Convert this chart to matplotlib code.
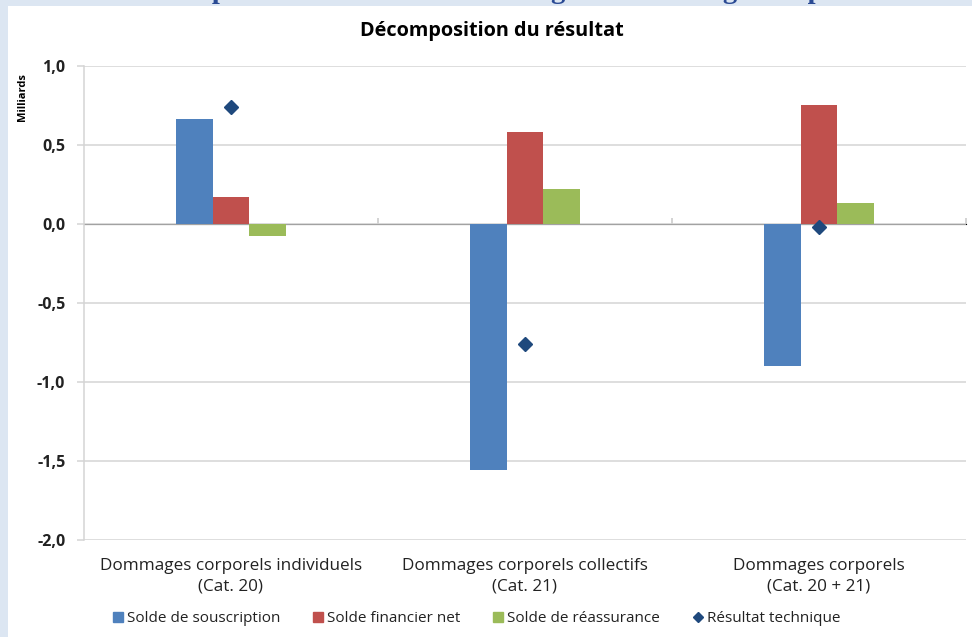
import numpy as np
import matplotlib.pyplot as plt
from matplotlib.lines import Line2D
from matplotlib.patches import Rectangle

plt.rcParams['font.family'] = ['Open Sans', 'DejaVu Sans']

# Résultat par catégorie, en milliards
categories = ["Dommages corporels individuels\n(Cat. 20)",
              "Dommages corporels collectifs\n(Cat. 21)",
              "Dommages corporels\n(Cat. 20 + 21)"]
solde_souscription = [0.66, -1.56, -0.90]
solde_financier = [0.17, 0.58, 0.75]
solde_reassurance = [-0.08, 0.22, 0.13]
resultat_technique = [0.74, -0.76, -0.02]

yticks = [1.0, 0.5, 0.0, -0.5, -1.0, -1.5, -2.0]
ytick_labels = ["1,0", "0,5", "0,0", "-0,5", "-1,0", "-1,5", "-2,0"]

c_blue = '#4f81bd'
c_red = '#c0504d'
c_green = '#9bbb59'
c_diam = '#1f497d'
c_grid = '#d4d4d4'

W, H = 972, 637
fig = plt.figure(figsize=(W / 100, H / 100), dpi=100)
fig.patch.set_facecolor('#dce6f2')

# white chart panel on top of the page background
fig.patches.append(Rectangle((8 / W, 0), 1, (H - 6) / H, transform=fig.transFigure,
                             facecolor='white', edgecolor='none', zorder=-1))
# page heading, mostly cut off at the top
fig.text(505 / W, 1 + 1.5 / H,
         "Décomposition du résultat des catégories dommages corporels",
         ha='center', va='baseline', fontsize=20.5, fontweight='bold',
         family='Liberation Serif', color='#2a4a94', zorder=-2)

ax = fig.add_axes([84 / W, 1 - 539.5 / H, 882 / W, (539.5 - 65.7) / H])
x = np.arange(len(categories))
bw = 0.125
ax.bar(x - bw, solde_souscription, bw, color=c_blue, zorder=3)
ax.bar(x, solde_financier, bw, color=c_red, zorder=3)
ax.bar(x + bw, solde_reassurance, bw, color=c_green, zorder=3)
ax.plot(x, resultat_technique, linestyle='none', marker='D', markersize=7,
        color=c_diam, zorder=4)

ax.set_xlim(-0.5, 2.5)
ax.set_ylim(-2.0, 1.0)
ax.set_yticks(yticks)
ax.set_yticklabels(ytick_labels, fontweight='bold', fontsize=11.5)
ax.yaxis.grid(True, color=c_grid, linewidth=1.1)
ax.set_axisbelow(True)
ax.tick_params(axis='y', length=5, color=c_grid, width=1.1, pad=8.5, labelcolor='#222222')

ax.set_xticks(x)
ax.set_xticklabels(categories, fontsize=12.3, color='#222222', linespacing=1.45)
ax.tick_params(axis='x', length=0, pad=13)

for s in ['top', 'right', 'bottom']:
    ax.spines[s].set_visible(False)
ax.spines['left'].set_color(c_grid)
ax.spines['left'].set_linewidth(1.1)

# zero axis with category separators
zero_ax = ax.secondary_xaxis(2 / 3)
zero_ax.set_xticks([0.5, 1.5, 2.5])
zero_ax.set_xticklabels([])
zero_ax.tick_params(length=4.5, color='#c8c8c8', width=1.1)
zero_ax.spines['bottom'].set_color('#d0d0d0')
zero_ax.spines['bottom'].set_linewidth(1.3)

fig.text(492 / W, 1 - 31 / H, "Décomposition du résultat", ha='center', va='center',
         fontsize=14.3, fontweight='bold', color='black')
fig.text(22 / W, 1 - 97 / H, "Milliards", ha='center', va='center', rotation=90,
         fontsize=8, fontweight='bold', color='black')

handles = [Line2D([], [], linestyle='none', marker='s', markersize=7, color=c_blue),
           Line2D([], [], linestyle='none', marker='s', markersize=7, color=c_red),
           Line2D([], [], linestyle='none', marker='s', markersize=7, color=c_green),
           Line2D([], [], linestyle='none', marker='D', markersize=5, color=c_diam)]
labels = ["Solde de souscription", "Solde financier net", "Solde de réassurance",
          "Résultat technique"]
fig.legend(handles, labels, loc='center', bbox_to_anchor=(477 / W, 1 - 619 / H),
           ncol=4, frameon=False, fontsize=11, handlelength=0.6, handletextpad=0.3,
           columnspacing=2.15, labelcolor='#222222')

fig.savefig('out.png', dpi=100, facecolor=fig.get_facecolor())
